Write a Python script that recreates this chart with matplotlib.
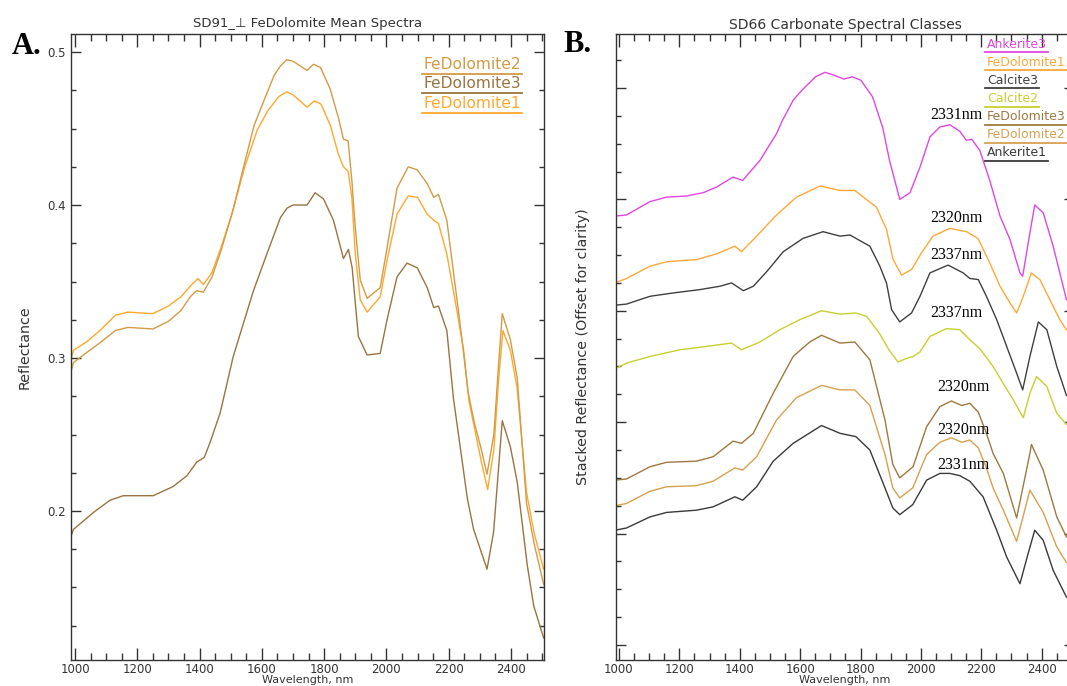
import matplotlib
matplotlib.use("Agg")
import matplotlib.pyplot as plt
from matplotlib.ticker import MultipleLocator, FormatStrFormatter
from matplotlib.lines import Line2D

# ---------------- panel A: SD91_1 FeDolomite mean spectra ----------------
a_fedol1_wl = [988, 995, 1040, 1080, 1130, 1170, 1250, 1300, 1340, 1370, 1395, 1412, 1440, 1470,
               1505, 1545, 1585, 1620, 1655, 1680, 1700, 1745, 1768, 1790, 1820, 1846, 1862, 1877,
               1889, 1900, 1916, 1938, 1980, 2002, 2034, 2070, 2100, 2131, 2152, 2167, 2194, 2228,
               2248, 2265, 2285, 2305, 2325, 2345, 2360, 2374, 2398, 2420, 2450, 2475, 2505]
a_fedol1_r = [0.300, 0.305, 0.311, 0.318, 0.328, 0.330, 0.329, 0.334, 0.340, 0.347, 0.352, 0.348, 0.356, 0.373,
              0.395, 0.425, 0.449, 0.462, 0.471, 0.474, 0.472, 0.464, 0.468, 0.466, 0.452, 0.433, 0.425, 0.422,
              0.405, 0.368, 0.338, 0.330, 0.340, 0.364, 0.394, 0.406, 0.405, 0.394, 0.390, 0.388, 0.368, 0.329,
              0.305, 0.272, 0.252, 0.232, 0.214, 0.240, 0.285, 0.318, 0.305, 0.280, 0.212, 0.185, 0.162]

a_fedol2_wl = [988, 995, 1040, 1080, 1130, 1170, 1250, 1300, 1340, 1370, 1390, 1412, 1440, 1470,
               1505, 1545, 1575, 1610, 1640, 1660, 1680, 1700, 1745, 1766, 1788, 1819, 1846, 1862,
               1877, 1889, 1900, 1916, 1938, 1980, 2002, 2034, 2070, 2099, 2131, 2152, 2167, 2194,
               2228, 2248, 2262, 2282, 2305, 2323, 2345, 2360, 2372, 2398, 2420, 2450, 2475, 2505]
a_fedol2_r = [0.292, 0.297, 0.304, 0.310, 0.318, 0.320, 0.319, 0.324, 0.331, 0.340, 0.344, 0.343, 0.353, 0.371,
              0.395, 0.428, 0.452, 0.470, 0.485, 0.491, 0.495, 0.494, 0.488, 0.492, 0.490, 0.476, 0.457, 0.443,
              0.442, 0.416, 0.385, 0.351, 0.339, 0.346, 0.372, 0.411, 0.425, 0.423, 0.414, 0.405, 0.407, 0.390,
              0.336, 0.303, 0.278, 0.258, 0.240, 0.224, 0.250, 0.295, 0.329, 0.312, 0.287, 0.205, 0.178, 0.152]

a_fedol3_wl = [988, 995, 1059, 1112, 1155, 1251, 1315, 1359, 1391, 1415, 1434, 1466, 1508, 1573,
               1616, 1660, 1681, 1700, 1745, 1771, 1798, 1830, 1862, 1878, 1890, 1900, 1910, 1938,
               1980, 2002, 2034, 2066, 2099, 2131, 2152, 2167, 2194, 2215, 2260, 2280, 2323, 2344,
               2372, 2398, 2420, 2452, 2473, 2505]
a_fedol3_r = [0.184, 0.188, 0.199, 0.207, 0.210, 0.210, 0.216, 0.223, 0.232, 0.235, 0.245, 0.264, 0.301, 0.344,
              0.368, 0.392, 0.398, 0.400, 0.400, 0.408, 0.404, 0.390, 0.365, 0.371, 0.359, 0.336, 0.314, 0.302,
              0.303, 0.325, 0.353, 0.362, 0.359, 0.346, 0.333, 0.334, 0.318, 0.274, 0.208, 0.188, 0.162, 0.186,
              0.259, 0.242, 0.219, 0.165, 0.138, 0.117]

a_names = ["FeDolomite2", "FeDolomite3", "FeDolomite1"]
a_colors = ["#D39B45", "#9A7440", "#FFA82E"]

# ---------------- panel B: SD66 carbonate spectral classes (stacked) ----------------
b_ank3_wl = [987, 1025, 1103, 1158, 1224, 1279, 1323, 1378, 1410, 1467, 1522, 1540, 1577, 1606, 1651,
             1682, 1707, 1745, 1772, 1801, 1840, 1874, 1896, 1930, 1964, 1997, 2030, 2063, 2096, 2129,
             2151, 2168, 2195, 2228, 2262, 2295, 2328, 2337, 2361, 2377, 2405, 2438, 2482]
b_ank3_v = [0.385, 0.386, 0.398, 0.402, 0.403, 0.406, 0.411, 0.420, 0.417, 0.435, 0.459, 0.470, 0.489, 0.498, 0.510,
            0.514, 0.512, 0.508, 0.510, 0.507, 0.492, 0.464, 0.435, 0.400, 0.406, 0.429, 0.456, 0.465, 0.467, 0.461,
            0.453, 0.454, 0.444, 0.417, 0.385, 0.364, 0.334, 0.331, 0.370, 0.395, 0.388, 0.358, 0.310]

b_fedol1_wl = [987, 1025, 1103, 1158, 1257, 1323, 1384, 1406, 1456, 1522, 1588, 1666, 1732, 1781, 1853,
               1886, 1908, 1936, 1969, 2002, 2040, 2096, 2151, 2189, 2228, 2262, 2295, 2317, 2339,
               2366, 2394, 2427, 2460, 2482]
b_fedol1_v = [0.325, 0.329, 0.340, 0.344, 0.346, 0.351, 0.358, 0.353, 0.367, 0.386, 0.402, 0.412, 0.408, 0.408, 0.393,
              0.373, 0.346, 0.332, 0.337, 0.352, 0.367, 0.374, 0.371, 0.365, 0.343, 0.322, 0.307, 0.298, 0.313,
              0.334, 0.328, 0.310, 0.292, 0.283]

b_cal3_wl = [987, 1025, 1103, 1180, 1268, 1334, 1373, 1412, 1445, 1489, 1544, 1610, 1676, 1732, 1765,
             1831, 1864, 1886, 1903, 1930, 1969, 1997, 2030, 2090, 2140, 2162, 2190, 2217, 2251, 2284,
             2317, 2337, 2361, 2389, 2417, 2450, 2482]
b_cal3_v = [0.305, 0.306, 0.313, 0.316, 0.319, 0.322, 0.325, 0.318, 0.322, 0.335, 0.353, 0.365, 0.371, 0.367, 0.368,
            0.358, 0.340, 0.325, 0.301, 0.290, 0.298, 0.313, 0.334, 0.341, 0.334, 0.329, 0.328, 0.313, 0.292, 0.268,
            0.244, 0.229, 0.259, 0.290, 0.283, 0.250, 0.224]

b_cal2_wl = [987, 1025, 1103, 1202, 1290, 1373, 1406, 1467, 1533, 1599, 1671, 1732, 1785, 1820, 1862,
             1894, 1924, 1950, 1974, 1997, 2030, 2085, 2129, 2162, 2195, 2239, 2272, 2306, 2339, 2361,
             2383, 2417, 2450, 2482]
b_cal2_v = [0.248, 0.253, 0.259, 0.265, 0.268, 0.271, 0.265, 0.272, 0.283, 0.292, 0.300, 0.297, 0.298, 0.295, 0.280,
            0.265, 0.254, 0.257, 0.259, 0.263, 0.277, 0.284, 0.283, 0.274, 0.266, 0.250, 0.235, 0.220, 0.204, 0.226,
            0.241, 0.232, 0.208, 0.198]

b_fedol3_wl = [987, 1025, 1103, 1158, 1257, 1312, 1378, 1406, 1445, 1511, 1577, 1632, 1671, 1732, 1781,
               1831, 1881, 1907, 1930, 1974, 2019, 2063, 2101, 2135, 2162, 2190, 2217, 2239, 2273, 2317,
               2361, 2366, 2405, 2450, 2482]
b_fedol3_v = [0.148, 0.149, 0.160, 0.164, 0.165, 0.169, 0.183, 0.181, 0.190, 0.226, 0.259, 0.272, 0.278, 0.271, 0.272,
              0.256, 0.202, 0.162, 0.150, 0.160, 0.196, 0.214, 0.219, 0.215, 0.217, 0.209, 0.190, 0.172, 0.154, 0.114,
              0.172, 0.180, 0.157, 0.115, 0.097]

b_fedol2_wl = [987, 1025, 1103, 1158, 1257, 1312, 1384, 1410, 1456, 1522, 1588, 1671, 1732, 1781, 1831,
               1881, 1907, 1930, 1973, 2019, 2063, 2101, 2135, 2162, 2190, 2217, 2239, 2273, 2317, 2361,
               2405, 2450, 2482]
b_fedol2_v = [0.125, 0.127, 0.138, 0.142, 0.143, 0.147, 0.159, 0.157, 0.169, 0.202, 0.222, 0.233, 0.229, 0.229, 0.215,
              0.171, 0.141, 0.132, 0.141, 0.171, 0.182, 0.186, 0.182, 0.184, 0.177, 0.159, 0.141, 0.121, 0.093, 0.139,
              0.119, 0.088, 0.074]

b_ank1_wl = [987, 1025, 1103, 1158, 1257, 1312, 1384, 1410, 1456, 1511, 1577, 1671, 1732, 1785, 1831,
             1881, 1907, 1930, 1973, 2019, 2063, 2096, 2129, 2162, 2206, 2251, 2284, 2328, 2355, 2377,
             2405, 2438, 2471, 2482]
b_ank1_v = [0.103, 0.105, 0.115, 0.119, 0.121, 0.124, 0.133, 0.130, 0.142, 0.165, 0.181, 0.197, 0.190, 0.187, 0.175,
            0.141, 0.123, 0.117, 0.126, 0.148, 0.154, 0.154, 0.152, 0.147, 0.133, 0.103, 0.079, 0.055, 0.082, 0.103,
            0.094, 0.067, 0.049, 0.043]

b_names = ["Ankerite3", "FeDolomite1", "Calcite3", "Calcite2", "FeDolomite3", "FeDolomite2", "Ankerite1"]
b_colors = ["#E048E0", "#FFA838", "#404040", "#C9CF2E", "#A07840", "#D8A050", "#3A3A3A"]

# band-minimum labels on panel B
b_note_text = ["2331nm", "2320nm", "2337nm", "2337nm", "2320nm", "2320nm", "2331nm"]
b_note_wl = [2030, 2030, 2030, 2030, 2053, 2053, 2053]
b_note_v = [0.476, 0.383, 0.350, 0.298, 0.232, 0.193, 0.162]

W, H = 1067, 686
AX_COL = "#333333"


def fx(px):
    return px / W


def fy(py):
    return 1 - py / H


def style_axes(ax, ymajor, yminor):
    for s in ax.spines.values():
        s.set_color(AX_COL)
        s.set_linewidth(1.0)
    ax.xaxis.set_major_locator(MultipleLocator(200))
    ax.xaxis.set_minor_locator(MultipleLocator(50))
    ax.yaxis.set_major_locator(MultipleLocator(ymajor))
    ax.yaxis.set_minor_locator(MultipleLocator(yminor))
    ax.tick_params(which="both", direction="in", top=True, right=True, colors=AX_COL,
                   labelsize=8.5, width=1.0)
    ax.tick_params(axis="x", which="major", length=9, pad=2)
    ax.tick_params(axis="x", which="minor", length=5)
    ax.tick_params(axis="y", which="major", length=7, pad=4)
    ax.tick_params(axis="y", which="minor", length=3.6)
    for lab in ax.get_xticklabels() + ax.get_yticklabels():
        lab.set_color(AX_COL)
    ax.set_xlabel("Wavelength, nm", fontsize=8, color=AX_COL, va="bottom")
    ax.xaxis.set_label_coords(0.5, -0.0405)


fig = plt.figure(figsize=(W / 100, H / 100), dpi=100)

# ---- panel A ----
axA = fig.add_axes([fx(71.3), fy(660), fx(544.3) - fx(71.3), fy(34) - fy(660)])
axA.plot(a_fedol1_wl, a_fedol1_r, color=a_colors[2], lw=1.0)
axA.plot(a_fedol2_wl, a_fedol2_r, color=a_colors[0], lw=1.0)
axA.plot(a_fedol3_wl, a_fedol3_r, color=a_colors[1], lw=1.0)
axA.set_xlim(988, 2507)
axA.set_ylim(0.1026, 0.5118)
style_axes(axA, 0.1, 0.025)
axA.yaxis.set_major_formatter(FormatStrFormatter("%.1f"))
axA.set_ylabel("Reflectance", fontsize=10.3, color=AX_COL)
axA.yaxis.set_label_coords(-0.083, 0.5)

# ---- panel B ----
axB = fig.add_axes([fx(615.6), fy(659.8), fx(1074) - fx(615.6), fy(33.6) - fy(659.8)])
b_series = [(b_ank3_wl, b_ank3_v), (b_fedol1_wl, b_fedol1_v), (b_cal3_wl, b_cal3_v),
            (b_cal2_wl, b_cal2_v), (b_fedol3_wl, b_fedol3_v), (b_fedol2_wl, b_fedol2_v),
            (b_ank1_wl, b_ank1_v)]
for (wl, v), c in zip(b_series, b_colors):
    axB.plot(wl, v, color=c, lw=1.0)
axB.set_xlim(989, 2507)
axB.set_ylim(-0.0133, 0.5488)
style_axes(axB, 0.1, 0.025)
axB.tick_params(axis="y", labelleft=False)
axB.set_ylabel("Stacked Reflectance (Offset for clarity)", fontsize=10.3, color=AX_COL)
axB.yaxis.set_label_coords(-0.056, 0.5)
for t, w, v in zip(b_note_text, b_note_wl, b_note_v):
    axB.text(w, v, t, fontsize=11.5, family="Liberation Serif", ha="left", va="center", color="black")

# titles and panel letters
fig.text(fx(307.8), fy(24), "SD91_\u22a5 FeDolomite Mean Spectra", ha="center", va="center",
         fontsize=9.5, color=AX_COL)
fig.text(fx(845), fy(25), "SD66 Carbonate Spectral Classes", ha="center", va="center",
         fontsize=10, color=AX_COL)
fig.text(fx(12), fy(47), "A.", fontsize=22, fontweight="bold", family="Liberation Serif",
         ha="left", va="center")
fig.text(fx(563), fy(45), "B.", fontsize=22, fontweight="bold", family="Liberation Serif",
         ha="left", va="center")

# legends: coloured names with underline
legend_texts = []
for i, (n, c) in enumerate(zip(a_names, a_colors)):
    t = fig.text(fx(423.5), fy(64.5 + i * 19.5), n, color=c, fontsize=11.2, ha="left", va="center")
    legend_texts.append((t, c, 64.5 + i * 19.5 + 9))
for i, (n, c) in enumerate(zip(b_names, b_colors)):
    t = fig.text(fx(987), fy(44.4 + i * 18.1), n, color=c, fontsize=9, ha="left", va="center")
    legend_texts.append((t, c, 44.4 + i * 18.1 + 7.8))

fig.canvas.draw()
rend = fig.canvas.get_renderer()
for t, c, uy in legend_texts:
    bb = t.get_window_extent(rend)
    fig.add_artist(Line2D([fx(bb.x0 - 2), fx(bb.x1 + 1)], [fy(uy), fy(uy)], color=c, lw=1.3,
                          transform=fig.transFigure))

fig.savefig("out.png", dpi=100)
